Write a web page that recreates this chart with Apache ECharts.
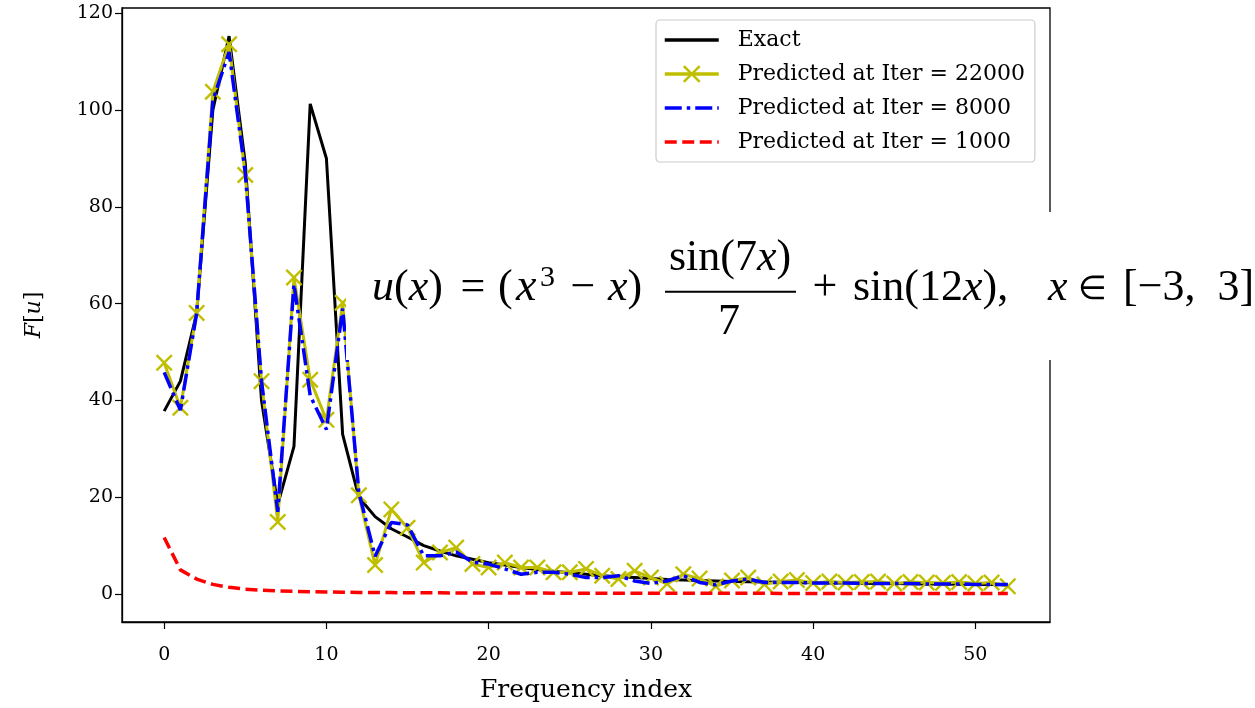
<!DOCTYPE html>
<html>
<head>
<meta charset="utf-8">
<script src="https://cdn.jsdelivr.net/npm/echarts@6/dist/echarts.min.js"></script>
<style>
  html, body { margin: 0; padding: 0; background: #fff; }
  #chart { width: 1255px; height: 708px; }
</style>
</head>
<body>
<div id="chart"></div>
<script>
// Frequency indices of the spectrum
const freqIndex = [0,1,2,3,4,5,6,7,8,9,10,11,12,13,14,15,16,17,18,19,20,21,22,23,24,25,26,
  27,28,29,30,31,32,33,34,35,36,37,38,39,40,41,42,43,44,45,46,47,48,49,50,51,52];

// |F[u]| of the exact solution
const exact = [37.8,44,58,100,115.3,89,40,18.5,30.5,101.3,
  90,33,20,16,13.5,11.8,10,8.9,7.9,7.2,
  6.5,6.0,5.5,5.1,4.7,4.4,4.1,3.8,3.6,3.4,
  3.2,3.0,2.9,2.8,2.7,2.6,2.55,2.5,2.45,2.4,
  2.35,2.3,2.3,2.25,2.2,2.2,2.15,2.1,2.1,2.05,
  2.0,2.0,1.95];

// Network prediction after 22000 iterations
const pred22000 = [47.8,38.5,58.1,103.8,113.6,86.6,44,14.9,65.4,44.3,
  36,60.2,20.4,6,17.5,13.7,6.5,8.6,9.6,6.2,
  5.5,6.5,5.5,5.5,4.5,4.5,5.2,3.8,3.1,4.8,
  3.4,2.1,4.1,3.2,1.6,2.8,3.4,2.0,2.6,2.9,
  2.3,2.6,2.4,2.5,2.6,2.2,2.5,2.4,2.3,2.5,
  2.2,2.4,1.6];

// Network prediction after 8000 iterations
const pred8000 = [45.8,38,58,102,112,87,44,17,64,41,
  34,59,21,7.8,14.8,14.3,7.9,7.9,8.7,6.6,
  6.2,5.2,4.1,4.5,4.5,4.1,3.4,3.4,3.8,2.7,
  2.2,2.7,3.8,2.4,1.9,2.7,3.1,2.4,2.4,2.4,
  2.3,2.3,2.3,2.2,2.2,2.2,2.2,2.1,2.1,2.1,
  2.0,2.0,2.0];

// Network prediction after 1000 iterations
const pred1000 = [11.7,5.0,3.1,2.0,1.4,1.0,0.8,0.65,0.55,0.48,
  0.42,0.38,0.35,0.32,0.3,0.28,0.26,0.25,0.24,0.23,
  0.22,0.21,0.2,0.2,0.19,0.19,0.18,0.18,0.17,0.17,
  0.17,0.16,0.16,0.16,0.15,0.15,0.15,0.15,0.14,0.14,
  0.14,0.14,0.13,0.13,0.13,0.13,0.13,0.12,0.12,0.12,
  0.12,0.12,0.12];

const xTicks = [0, 10, 20, 30, 40, 50];
const yTicks = [0, 20, 40, 60, 80, 100, 120];

const seriesNames = ['Exact', 'Predicted at Iter = 22000', 'Predicted at Iter = 8000', 'Predicted at Iter = 1000'];

const pairs = vals => freqIndex.map((k, i) => [k, vals[i]]);

const SERIF = '"DejaVu Serif", serif';
const TIMES = '"Liberation Serif", "Times New Roman", serif';
const CROSS = 'path://M1,0 L5,4 L9,0 L10,1 L6,5 L10,9 L9,10 L5,6 L1,10 L0,9 L4,5 L0,1 Z';

const chart = echarts.init(document.getElementById('chart'), null, { renderer: 'canvas' });

const F44 = '44px ' + TIMES;
const I44 = 'italic 44px ' + TIMES;

function t(x, y, text, font, align, rich) {
  const style = { text: text, font: font, fill: '#000', align: align || 'left', verticalAlign: 'middle' };
  if (rich) style.rich = { i: { font: I44, fill: '#000' } };
  return { type: 'text', x: x, y: y, z: 101, style: style };
}

// plain-line entries show only their line in the legend
const lineOnly = name => ({ name: name, itemStyle: { opacity: 0 } });

chart.setOption({
  animation: false,
  backgroundColor: '#fff',
  grid: {
    left: 122, right: 205, top: 8, bottom: 86,
    show: true, borderColor: '#000', borderWidth: 1.3,
    outerBoundsMode: 'none'
  },
  legend: {
    orient: 'vertical',
    left: 656, top: 20,
    itemWidth: 54, itemHeight: 22, itemGap: 12,
    padding: [9, 10, 9, 7],
    borderColor: '#cccccc', borderWidth: 1.2, borderRadius: 4,
    backgroundColor: 'rgba(255,255,255,0.8)',
    lineStyle: { width: 3.5 },
    textStyle: { fontFamily: SERIF, fontSize: 22, color: '#000', padding: [0, 0, 0, 14] },
    data: [lineOnly(seriesNames[0]), { name: seriesNames[1] }, lineOnly(seriesNames[2]), lineOnly(seriesNames[3])]
  },
  xAxis: {
    type: 'value', min: -2.6, max: 54.6,
    name: 'Frequency index', nameLocation: 'middle', nameGap: 56,
    nameTextStyle: { fontFamily: SERIF, fontSize: 25, color: '#000' },
    axisLine: { show: true, onZero: false, lineStyle: { color: '#000', width: 1.3 } },
    axisTick: { show: true, customValues: xTicks, length: 7, lineStyle: { color: '#000', width: 1.2 } },
    axisLabel: { customValues: xTicks, margin: 24, fontFamily: SERIF, fontSize: 19, color: '#000' },
    splitLine: { show: false }
  },
  yAxis: {
    type: 'value', min: -5.77, max: 121.1,
    name: '{i|F}[{i|u}]', nameLocation: 'middle', nameGap: 77, nameRotate: 90,
    nameTextStyle: {
      fontFamily: SERIF, fontSize: 22, color: '#000',
      rich: { i: { fontFamily: SERIF, fontSize: 22, fontStyle: 'italic', color: '#000' } }
    },
    axisLine: { show: true, onZero: false, lineStyle: { color: '#000', width: 1.3 } },
    axisTick: { show: true, customValues: yTicks, length: 7, lineStyle: { color: '#000', width: 1.2 } },
    axisLabel: { customValues: yTicks, margin: 9, fontFamily: SERIF, fontSize: 19, color: '#000' },
    splitLine: { show: false }
  },
  series: [
    {
      name: seriesNames[0], type: 'line', data: pairs(exact), z: 2,
      showSymbol: false, color: '#000',
      lineStyle: { color: '#000', width: 3 }
    },
    {
      name: seriesNames[1], type: 'line', data: pairs(pred22000), z: 3,
      symbol: CROSS, symbolSize: 17, showSymbol: true, color: '#bfbf00',
      itemStyle: { color: '#bfbf00' },
      lineStyle: { color: '#bfbf00', width: 3 }
    },
    {
      name: seriesNames[2], type: 'line', data: pairs(pred8000), z: 4,
      showSymbol: false, color: '#0000ff',
      lineStyle: { color: '#0000ff', width: 3.5, type: [17, 5, 3.5, 5] }
    },
    {
      name: seriesNames[3], type: 'line', data: pairs(pred1000), z: 5,
      showSymbol: false, color: '#ff0000',
      lineStyle: { color: '#ff0000', width: 3.5, type: [12, 5.5] }
    }
  ],
  graphic: {
    elements: [
      // panel holding the formula, drawn over the plot frame
      { type: 'rect', z: 100, shape: { x: 346, y: 212, width: 909, height: 148 }, style: { fill: '#fff' } },
      t(372, 288, '{i|u}({i|x})', F44, 'left', true),
      t(473, 288, '=', F44, 'center'),
      t(498, 288, '(', F44, 'left'),
      t(516, 288, 'x', 'italic 46px ' + TIMES, 'left'),
      t(540, 278, '3', '30px ' + TIMES, 'left'),
      t(583, 288, '\u2212', F44, 'center'),
      t(608, 288, '{i|x})', F44, 'left', true),
      t(730, 258, 'sin(7{i|x})', F44, 'center', true),
      { type: 'line', z: 101, shape: { x1: 665, y1: 291.7, x2: 796, y2: 291.7 }, style: { stroke: '#000', lineWidth: 2 } },
      t(729, 322, '7', F44, 'center'),
      t(825, 288, '+', F44, 'center'),
      t(853, 288, 'sin(12{i|x}),', F44, 'left', true),
      t(1048, 288, 'x', I44, 'left'),
      t(1092, 290, '\u2208', '33px ' + TIMES, 'center'),
      t(1123, 288, '[\u22123,  3]', F44, 'left')
    ]
  }
});
</script>
</body>
</html>
